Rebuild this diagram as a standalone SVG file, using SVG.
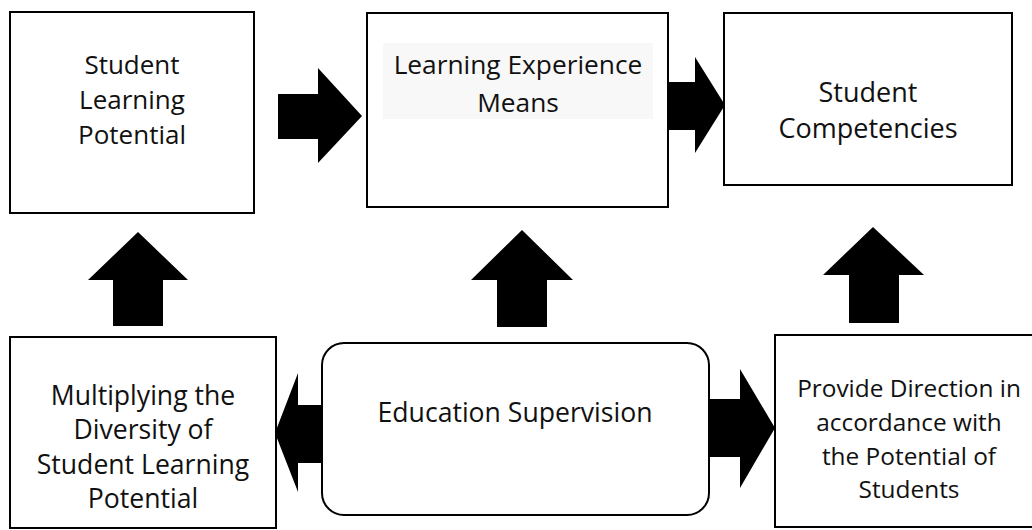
<svg xmlns="http://www.w3.org/2000/svg" width="1032" height="530" viewBox="0 0 1032 530">
<style>
.box{fill:#fff;stroke:#000;stroke-width:2}
.t{font-family:"Open Sans","Noto Sans","Liberation Sans",sans-serif;font-size:26px;fill:#111;text-anchor:middle}
.arr{fill:#000}
</style>
<rect width="1032" height="530" fill="#fff"/>
<g id="node-potential">
<rect class="box" x="10" y="12" width="244" height="201"/>
<text class="t" x="132" y="74">Student</text>
<text class="t" x="132" y="109">Learning</text>
<text class="t" x="132" y="144">Potential</text>
</g>
<g id="node-experience">
<rect class="box" x="367" y="13" width="301" height="194"/>
<rect x="383" y="43" width="270" height="76" fill="#f8f8f8"/>
<text class="t" x="518" y="74" style="font-size:26.3px">Learning Experience</text>
<text class="t" x="518" y="112" style="font-size:26.3px">Means</text>
</g>
<g id="node-competencies">
<rect class="box" x="724" y="13" width="288" height="172"/>
<text class="t" x="868" y="102" style="font-size:27px">Student</text>
<text class="t" x="868" y="138" style="font-size:27px">Competencies</text>
</g>
<g id="node-multiplying">
<rect class="box" x="10" y="337" width="266" height="191"/>
<text class="t" x="143" y="405" style="font-size:26.6px">Multiplying the</text>
<text class="t" x="143" y="439" style="font-size:26.6px">Diversity of</text>
<text class="t" x="143" y="474" style="font-size:26.6px">Student Learning</text>
<text class="t" x="143" y="508" style="font-size:26.6px">Potential</text>
</g>
<g id="node-supervision">
<rect class="box" x="322" y="343" width="387" height="172" rx="22" ry="22"/>
<text class="t" x="515" y="422" style="font-size:26.6px">Education Supervision</text>
</g>
<g id="node-direction">
<rect class="box" x="775" y="335" width="270" height="192"/>
<text class="t" x="909" y="397" style="font-size:24.4px">Provide Direction in</text>
<text class="t" x="909" y="431" style="font-size:24.4px">accordance with</text>
<text class="t" x="909" y="465" style="font-size:24.4px">the Potential of</text>
<text class="t" x="909" y="498" style="font-size:24.4px">Students</text>
</g>
<g id="connectors">
<polygon class="arr" points="278,94 318,94 318,68 362,116 318,163 318,139 278,139"/>
<polygon class="arr" points="668,82 695,82 695,57 725,105 695,153 695,130 668,130"/>
<polygon class="arr" points="138,232 188,280 163,280 163,326 113,326 113,280 88,280"/>
<polygon class="arr" points="522,230 573,280 547,280 547,327 497,327 497,280 471,280"/>
<polygon class="arr" points="873,227 924,275 899,275 899,323 849,323 849,275 823,275"/>
<polygon class="arr" points="322,405 298,405 298,373 275,433 298,492 298,463 322,463"/>
<polygon class="arr" points="709,399 740,399 740,369 775,428 740,488 740,457 709,457"/>
</g>
</svg>
